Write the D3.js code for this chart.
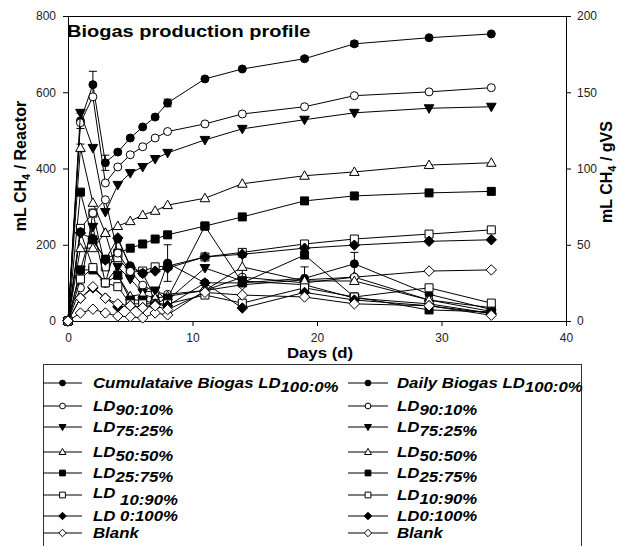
<!DOCTYPE html>
<html>
<head>
<meta charset="utf-8">
<script src="https://cdn.jsdelivr.net/npm/d3@7"></script>
<style>
  body { margin: 0; background: #fff; }
  text { font-family: "Liberation Sans", Arial, sans-serif; }
</style>
</head>
<body>
<div id="chart"></div>
<script>
// sampling days
const days = [0, 1, 2, 3, 4, 5, 6, 7, 8, 11, 14, 19, 23, 29, 34];

// cumulative biogas (mL CH4 / reactor)
const cumLD100 = [0, 525, 620, 415, 443, 480, 509, 535, 572, 635, 661, 688, 727, 743, 753];
const cumLD90  = [0, 520, 588, 362, 404, 436, 457, 480, 497, 517, 543, 562, 591, 601, 612];
const cumLD75  = [0, 546, 454, 286, 357, 388, 404, 425, 441, 475, 504, 528, 546, 558, 562];
const cumLD50  = [0, 454, 310, 231, 249, 262, 278, 289, 304, 322, 360, 381, 391, 409, 415];
const cumLD25  = [0, 338, 213, 162, 178, 191, 202, 215, 226, 249, 273, 315, 328, 336, 340];
const cumLD10  = [0, 243, 283, 142, 166, 128, 131, 142, 144, 168, 180, 202, 215, 228, 239];
const cumLD0   = [0, 231, 215, 160, 218, 141, 125, 131, 139, 168, 175, 191, 199, 209, 213];
const cumBlank = [0, 21, 31, 21, 13, 11, 8, 21, 16, 80, 95, 108, 115, 131, 134];

// daily biogas
const dayLD100 = [0, 234, 140, 100, 215, 145, 125, 60, 152, 100, 100, 112, 150, 70, 30];
const dayLD90  = [0, 87, 283, 318, 178, 130, 94, 76, 70, 80, 115, 100, 115, 55, 35];
const dayLD75  = [0, 134, 247, 100, 142, 110, 75, 80, 55, 139, 105, 95, 60, 45, 20];
const dayLD50  = [0, 191, 191, 231, 120, 65, 70, 60, 65, 80, 142, 105, 105, 55, 25];
const dayLD25  = [0, 134, 134, 100, 120, 55, 55, 45, 60, 249, 100, 173, 63, 29, 24];
const dayLD10  = [0, 110, 140, 100, 90, 45, 45, 45, 45, 68, 47, 87, 63, 87, 47];
const dayLD0   = [0, 60, 87, 60, 37, 40, 35, 45, 40, 100, 34, 75, 55, 40, 20];
const dayBlank = [0, 60, 90, 60, 45, 40, 35, 40, 30, 75, 68, 63, 45, 40, 15];

// standard deviations (0 = none drawn)
const errCumLD100 = [0, 20, 35, 20, 0, 0, 0, 0, 10, 0, 0, 5, 7, 0, 0];
const errCumLD50  = [0, 10, 0, 0, 0, 0, 0, 0, 0, 0, 0, 0, 0, 0, 0];
const errDayLD100 = [0, 0, 0, 0, 0, 0, 0, 0, 48, 0, 0, 30, 30, 0, 0];
const errDayLD50  = [0, 0, 0, 0, 0, 0, 0, 0, 0, 0, 25, 0, 0, 0, 0];

const xTicks = [0, 10, 20, 30, 40];
const yTicks = [0, 200, 400, 600, 800];
const yRTicks = [0, 50, 100, 150, 200];

const legendLeft = [["Cumulataive Biogas LD", "100:0%"], ["LD", "90:10%"], ["LD", "75:25%"], ["LD", "50:50%"],
                    ["LD", "25:75%"], ["LD", " 10:90%"], ["LD 0:100%", ""], ["Blank", ""]];
const legendRight = [["Daily Biogas LD", "100:0%"], ["LD", "90:10%"], ["LD", "75:25%"], ["LD", "50:50%"],
                     ["LD", "25:75%"], ["LD", "10:90%"], ["LD0:100%", ""], ["Blank", ""]];

const cumSeries = [cumLD100, cumLD90, cumLD75, cumLD50, cumLD25, cumLD10, cumLD0, cumBlank];
const daySeries = [dayLD100, dayLD90, dayLD75, dayLD50, dayLD25, dayLD10, dayLD0, dayBlank];
const cumErr = [errCumLD100, null, null, errCumLD50, null, null, null, null];
const dayErr = [errDayLD100, null, null, errDayLD50, null, null, null, null];

// marker shapes, same order as the treatments
function markerPath(i, s) {
  const p = d3.path();
  if (i < 2) { p.arc(0, 0, 4 * s, 0, 2 * Math.PI); }
  else if (i === 2) { p.moveTo(0, 5 * s); p.lineTo(4.8 * s, -3.5 * s); p.lineTo(-4.8 * s, -3.5 * s); p.closePath(); }
  else if (i === 3) { p.moveTo(0, -5 * s); p.lineTo(4.8 * s, 3.5 * s); p.lineTo(-4.8 * s, 3.5 * s); p.closePath(); }
  else if (i < 6) { p.rect(-4 * s, -4 * s, 8 * s, 8 * s); }
  else { p.moveTo(0, -5.2 * s); p.lineTo(5.2 * s, 0); p.lineTo(0, 5.2 * s); p.lineTo(-5.2 * s, 0); p.closePath(); }
  return p.toString();
}
const markerFill = i => (i % 2 === 0 ? "#000" : "#fff");

const W = 620, H = 546;
const svg = d3.select("#chart").append("svg").attr("width", W).attr("height", H);
svg.append("rect").attr("width", W).attr("height", H).attr("fill", "#fff");

const x = d3.scaleLinear().domain([0, 40]).range([68, 566]);
const y = d3.scaleLinear().domain([0, 800]).range([321, 16]);
const yR = d3.scaleLinear().domain([0, 200]).range([321, 16]);

// axes
const gx = svg.append("g").attr("transform", "translate(0,321)")
  .call(d3.axisBottom(x).tickValues(xTicks).tickSize(5).tickPadding(7));
const gy = svg.append("g").attr("transform", "translate(68,0)")
  .call(d3.axisLeft(y).tickValues(yTicks).tickSize(5).tickPadding(7));
const gyR = svg.append("g").attr("transform", "translate(566,0)")
  .call(d3.axisRight(yR).tickValues(yRTicks).tickSize(5).tickPadding(6));
[gx, gy, gyR].forEach(g => {
  g.select(".domain").attr("stroke", "#000");
  g.selectAll("text").attr("font-size", 12).attr("font-family", "Liberation Sans, Arial, sans-serif").attr("fill", "#222");
});
svg.append("line").attr("x1", 68).attr("x2", 566).attr("y1", 16.5).attr("y2", 16.5).attr("stroke", "#000");

// series
const line = d3.line().x((d, i) => x(days[i])).y(d => y(d));
function drawSeries(vals, errs, i) {
  const g = svg.append("g");
  g.append("path").datum(vals).attr("d", line).attr("fill", "none").attr("stroke", "#000").attr("stroke-width", 1);
  if (errs) {
    vals.forEach((v, k) => {
      if (!errs[k]) return;
      const cx = x(days[k]);
      g.append("line").attr("x1", cx).attr("x2", cx).attr("y1", y(v - errs[k])).attr("y2", y(v + errs[k])).attr("stroke", "#000");
      [v - errs[k], v + errs[k]].forEach(e => g.append("line").attr("x1", cx - 4).attr("x2", cx + 4)
        .attr("y1", y(e)).attr("y2", y(e)).attr("stroke", "#000"));
    });
  }
  g.selectAll("path.m").data(vals).join("path").attr("class", "m")
    .attr("d", markerPath(i, 1))
    .attr("transform", (d, k) => `translate(${x(days[k])},${y(d)})`)
    .attr("fill", markerFill(i)).attr("stroke", "#000").attr("stroke-width", 1);
}
cumSeries.forEach((s, i) => drawSeries(s, cumErr[i], i));
daySeries.forEach((s, i) => drawSeries(s, dayErr[i], i));

// titles (the original lettering is a bit wider than the font, hence the x-scale)
svg.append("text").attr("transform", "translate(67,37) scale(1.25,1)").attr("font-size", 16).attr("font-weight", "bold")
  .text("Biogas production profile");
svg.append("text").attr("transform", "translate(320,358) scale(1.2,1)").attr("text-anchor", "middle")
  .attr("font-size", 14).attr("font-weight", "bold").text("Days (d)");

function yLabel(cx, cy, tail) {
  const t = svg.append("text").attr("transform", `translate(${cx},${cy}) rotate(-90)`)
    .attr("text-anchor", "middle").attr("font-size", 16).attr("font-weight", "bold");
  t.append("tspan").text("mL CH");
  t.append("tspan").attr("font-size", 11).attr("dy", 4).text("4");
  t.append("tspan").attr("dy", -4).text(" / " + tail);
}
yLabel(26, 166, "Reactor");
yLabel(612, 172, "gVS");

// legend
svg.append("rect").attr("x", 43.5).attr("y", 364.5).attr("width", 538).attr("height", 200)
  .attr("fill", "none").attr("stroke", "#333");
const rowY = [383, 406, 427, 452, 473, 495, 516, 533];
function legendCol(items, x0, x1, tx) {
  items.forEach((it, i) => {
    const ly = rowY[i];
    svg.append("line").attr("x1", x0).attr("x2", x1).attr("y1", ly).attr("y2", ly).attr("stroke", "#000");
    svg.append("path").attr("d", markerPath(i, 0.72)).attr("transform", `translate(${(x0 + x1) / 2},${ly})`)
      .attr("fill", markerFill(i)).attr("stroke", "#000");
    const wide = it[1].startsWith(" ");
    const t = svg.append("text").attr("transform", `translate(${tx},${ly + (wide ? 3 : 4.5)}) scale(1.2,1)`)
      .attr("font-size", 14).attr("font-weight", "bold").attr("font-style", "italic");
    t.append("tspan").text(it[0]);
    if (it[1]) t.append("tspan").attr("dy", wide ? 7 : 4).text(it[1]);
  });
}
legendCol(legendLeft, 43, 82, 93);
legendCol(legendRight, 348, 388, 397);
</script>
</body>
</html>
